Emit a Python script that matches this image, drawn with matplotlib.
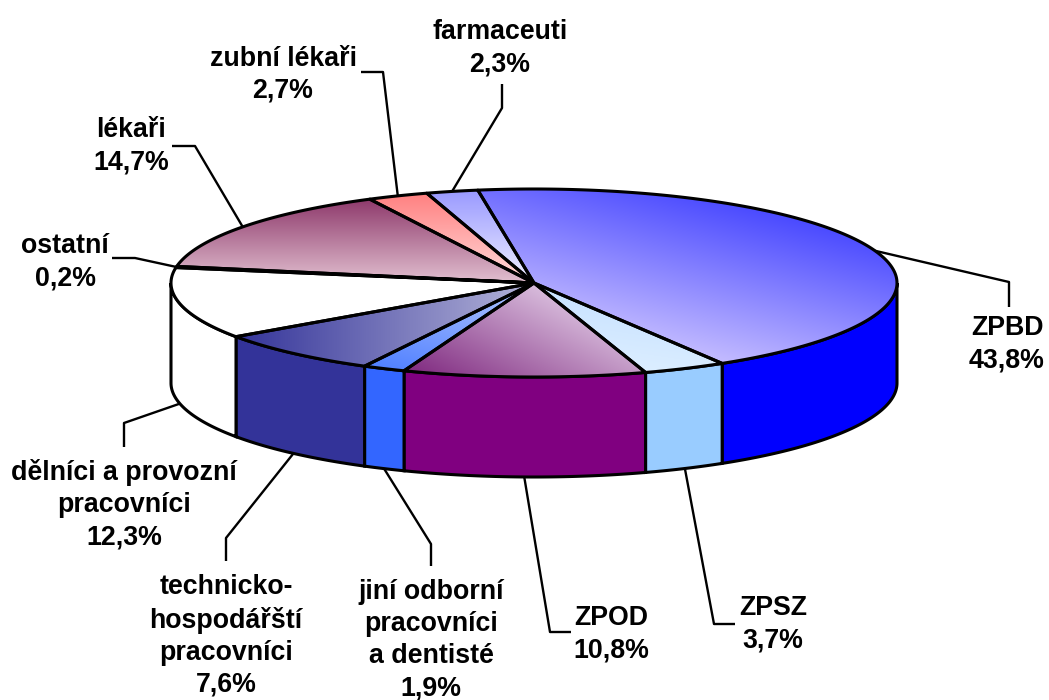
import numpy as np
import matplotlib
matplotlib.use('Agg')
import matplotlib.pyplot as plt
from matplotlib.patches import Polygon
from matplotlib.colors import LinearSegmentedColormap

plt.rcParams['font.family'] = ['Liberation Sans', 'DejaVu Sans']

# hodnoty v procentech, ve smeru hodinovych rucicek
nazvy = ['ZPBD', 'ZPSZ', 'ZPOD', 'jiní odborní\npracovníci\na dentisté',
         'technicko-\nhospodářští\npracovníci', 'dělníci a provozní\npracovníci',
         'ostatní', 'lékaři', 'zubní lékaři', 'farmaceuti']
hodnoty = [43.8, 3.7, 10.8, 1.9, 7.6, 12.3, 0.2, 14.7, 2.7, 2.3]
popisky = ['43,8%', '3,7%', '10,8%', '1,9%', '7,6%', '12,3%', '0,2%', '14,7%', '2,7%', '2,3%']

# barvy boku a gradientu horni plochy (od, do, smer gradientu)
boky = ['#0000ff', '#99ccff', '#800080', '#3366ff', '#333399', '#ffffff', '#ffffff', '#800040', '#ff8080', '#9999ff']
grad_od = ['#4a4aff', '#c8e2ff', '#802a80', '#5080ff', '#34349a', '#ffffff', '#ffffff', '#8e3a6c', '#ff8080', '#9999ff']
grad_do = ['#c4bcff', '#dceeff', '#d8bcdc', '#b4c8ff', '#b4b4d8', '#ffffff', '#ffffff', '#e2c0d0', '#ffdcdc', '#f0f0ff']
smery = [(-0.6, 0.6), (-0.5, 0.85), (1.0, -0.5), (0.7, -0.7), (1, 0), (0, 1), (0, 1), (0, 1), (0, 1), (0, 1)]

# geometrie kolace v pixelech
cx, cy = 534, 283
rx, ry = 363, 94
hloubka = 100
start = -8.9

# lomene cary popisku: body za kotvou na okraji kolace
lomy = [[(1009, 282), (1009, 307)], [(714, 624), (735, 624)], [(550, 632), (571, 632)],
        [(431, 544), (431, 566)], [(226, 538), (226, 561)], [(124, 423), (124, 447)],
        [(135, 258), (112, 258)], [(195, 146), (172, 146)], [(383, 72), (361, 72)], [(502, 108), (502, 84)]]
text_xy = [(1007, 344), (773, 624), (611, 634), (431, 640), (226, 636), (124, 505),
           (65, 262), (131, 146), (283, 75), (500, 48)]

fig = plt.figure(figsize=(10.49, 7), dpi=100)
ax = fig.add_axes([0, 0, 1, 1])
ax.set_xlim(0, 1049)
ax.set_ylim(700, 0)
ax.axis('off')


def bod(t, dy=0):
    t = np.radians(t)
    return cx + rx * np.sin(t), cy - ry * np.cos(t) + dy


hrany = start + np.cumsum([0] + hodnoty) * 360 / sum(hodnoty)

# boky - jen predni cast, t mezi 90 a 270
for i in range(len(hodnoty)):
    a, b = max(hrany[i], 90), min(hrany[i + 1], 270)
    if a >= b:
        continue
    t = np.linspace(a, b, 120)
    x1, y1 = bod(t)
    x2, y2 = bod(t, hloubka)
    xy = np.r_[np.c_[x1, y1], np.c_[x2, y2][::-1]]
    ax.add_patch(Polygon(xy, closed=True, fc=boky[i], ec='black', lw=2.2, zorder=2))

# horni plocha s gradientem
n = 500
xx, yy = np.meshgrid(np.linspace(cx - rx, cx + rx, 2 * n), np.linspace(cy - ry, cy + ry, n))
for i in range(len(hodnoty)):
    t = np.linspace(hrany[i], hrany[i + 1], 200)
    x, y = bod(t)
    xy = np.r_[[(cx, cy)], np.c_[x, y]]
    dx, dy = smery[i]
    d = (xx - cx) * dx / rx + (yy - cy) * dy / ry
    maska = Polygon(xy, closed=True, transform=ax.transData)
    p = (xy[:, 0] - cx) * dx / rx + (xy[:, 1] - cy) * dy / ry
    d = np.clip((d - p.min()) / (p.max() - p.min() + 1e-9), 0, 1)
    cm = LinearSegmentedColormap.from_list('g', [grad_od[i], grad_do[i]])
    im = ax.imshow(d, cmap=cm, vmin=0, vmax=1, extent=(cx - rx, cx + rx, cy + ry, cy - ry),
                   aspect='auto', zorder=3, interpolation='bilinear')
    im.set_clip_path(maska)
    ax.add_patch(Polygon(xy, closed=True, fc='none', ec='black', lw=2.2, zorder=4, joinstyle='round'))
ax.set_xlim(0, 1049)
ax.set_ylim(700, 0)

# popisky a vodici cary
for i in range(len(hodnoty)):
    stred = (hrany[i] + hrany[i + 1]) / 2
    kotva = bod(stred, hloubka if 90 < stred < 270 else 0)
    pts = np.array([kotva] + lomy[i])
    ax.plot(pts[:, 0], pts[:, 1], color='black', lw=1.7, zorder=1, solid_capstyle='butt')
    ax.text(text_xy[i][0], text_xy[i][1], nazvy[i] + '\n' + popisky[i], ha='center', va='center',
            fontsize=19.3, fontweight='bold', linespacing=1.3, zorder=5)

fig.savefig('out.png', dpi=100)
